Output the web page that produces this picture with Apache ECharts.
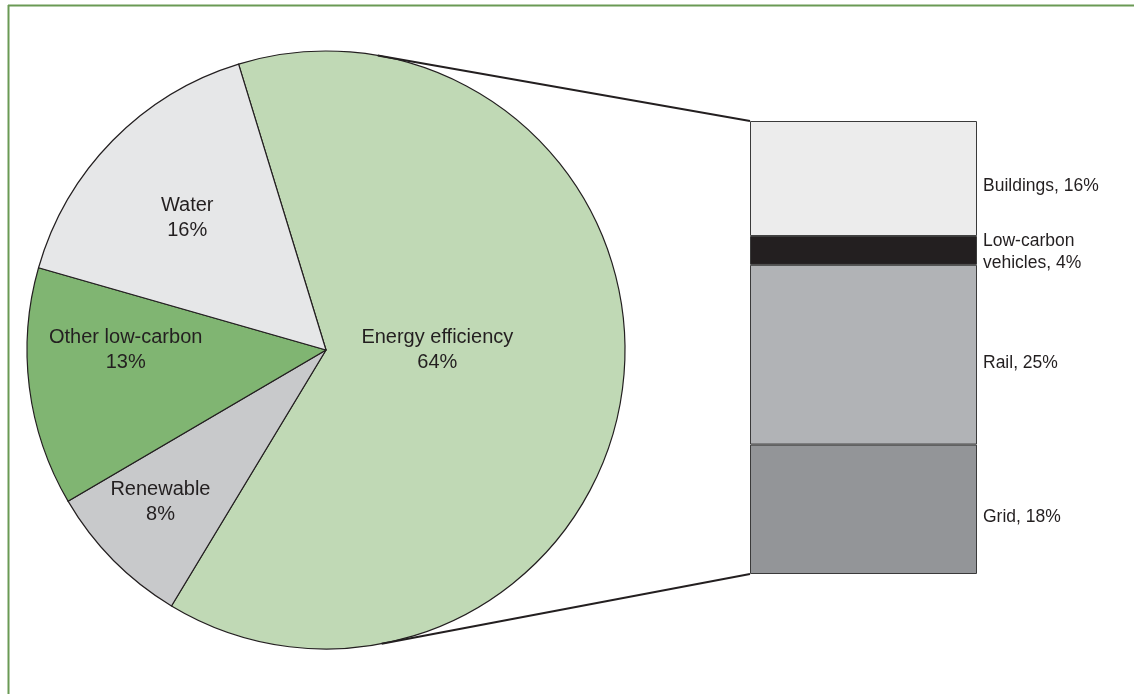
<!DOCTYPE html>
<html>
<head>
<meta charset="utf-8">
<script src="https://cdn.jsdelivr.net/npm/echarts@6/dist/echarts.min.js"></script>
<style>
html,body{margin:0;padding:0;background:#fff;}
#chart{width:1134px;height:694px;}
</style>
</head>
<body>
<div id="chart"></div>
<script>
// ---- data ----
var pieNames = ['Energy efficiency', 'Renewable', 'Other low-carbon', 'Water'];
var pieValues = [64, 8, 13, 16];
var barNames = ['Buildings', 'Low-carbon\nvehicles', 'Rail', 'Grid'];
var barValues = [16, 4, 25, 18];

// ---- styles / layout ----
var pieColors = ['#c0d9b5', '#c8c9cb', '#80b572', '#e6e7e8'];
var barColors = ['#ececec', '#231f20', '#b1b3b6', '#939598'];
var labelShift = [[-20, -9.5], [-28.5, 22.5], [-24.5, -9.5], [-15, -12.5]];
var PIE_CX = 326, PIE_CY = 350, PIE_R = 299;
var GRID = {left: 750, top: 121, width: 227, height: 453};
var FONT = 'Liberation Sans, Arial, sans-serif';

var chart = echarts.init(document.getElementById('chart'), null, {renderer: 'canvas'});

var barTotal = barValues.reduce(function (a, b) { return a + b; }, 0);
// stack from bottom: reverse order
var barSeries = [];
for (var i = barNames.length - 1; i >= 0; i--) {
  barSeries.push({
    type: 'bar',
    name: barNames[i],
    stack: 'total',
    barWidth: '100%',
    data: [barValues[i]],
    itemStyle: {color: barColors[i], borderColor: '#3a3a3a', borderWidth: 1},
    label: {
      show: true,
      position: 'right',
      distance: 6,
      offset: [0, i === 1 ? 2 : 8],
      formatter: '{a}, {c}%',
      color: '#231f20',
      fontSize: 17.5,
      lineHeight: 22,
      fontFamily: FONT
    }
  });
}

var pieData = pieNames.map(function (n, k) {
  return {name: n, value: pieValues[k], itemStyle: {color: pieColors[k]}};
});

var option = {
  backgroundColor: '#ffffff',
  animation: false,
  grid: {left: GRID.left, top: GRID.top, width: GRID.width, height: GRID.height},
  xAxis: {type: 'category', data: [''], show: false, boundaryGap: true},
  yAxis: {type: 'value', min: 0, max: barTotal, show: false},
  series: [{
    type: 'pie',
    center: [PIE_CX, PIE_CY],
    radius: [0, PIE_R],
    startAngle: 107,
    clockwise: true,
    data: pieData,
    itemStyle: {borderColor: '#231f20', borderWidth: 1.2},
    label: {
      show: true,
      position: 'inside',
      formatter: '{b}\n{c}%',
      color: '#231f20',
      fontSize: 20,
      lineHeight: 25,
      fontFamily: FONT
    },
    labelLine: {show: false},
    labelLayout: function (p) {
      var s = labelShift[p.dataIndex];
      return {dx: s[0], dy: s[1]};
    },
    emphasis: {disabled: true}
  }].concat(barSeries)
};
chart.setOption(option);

// connectors: tangent lines from bar corners to pie circle
function tangentPoint(px, py, upper) {
  var vx = px - PIE_CX, vy = py - PIE_CY;
  var d = Math.sqrt(vx * vx + vy * vy);
  var th = Math.atan2(vy, vx);
  var a = Math.acos(PIE_R / d);
  var t1 = th - a, t2 = th + a;
  var p1 = [PIE_CX + PIE_R * Math.cos(t1), PIE_CY + PIE_R * Math.sin(t1)];
  var p2 = [PIE_CX + PIE_R * Math.cos(t2), PIE_CY + PIE_R * Math.sin(t2)];
  if (upper) return p1[1] < p2[1] ? p1 : p2;
  return p1[1] > p2[1] ? p1 : p2;
}
var topY = chart.convertToPixel({yAxisIndex: 0}, barTotal);
var botY = chart.convertToPixel({yAxisIndex: 0}, 0);
var bx = GRID.left;
var tTop = tangentPoint(bx, topY, true);
var tBot = tangentPoint(bx, botY, false);

chart.setOption({
  graphic: [
    {type: 'line', shape: {x1: tTop[0], y1: tTop[1], x2: bx, y2: topY},
     style: {stroke: '#231f20', lineWidth: 2}, z: 10},
    {type: 'line', shape: {x1: tBot[0], y1: tBot[1], x2: bx, y2: botY},
     style: {stroke: '#231f20', lineWidth: 2}, z: 10},
    {type: 'line', shape: {x1: 8, y1: 5.5, x2: 1134, y2: 5.5},
     style: {stroke: '#6a9a55', lineWidth: 2}, z: 10},
    {type: 'line', shape: {x1: 8.5, y1: 5, x2: 8.5, y2: 694},
     style: {stroke: '#6a9a55', lineWidth: 2}, z: 10}
  ]
});
</script>
</body>
</html>
